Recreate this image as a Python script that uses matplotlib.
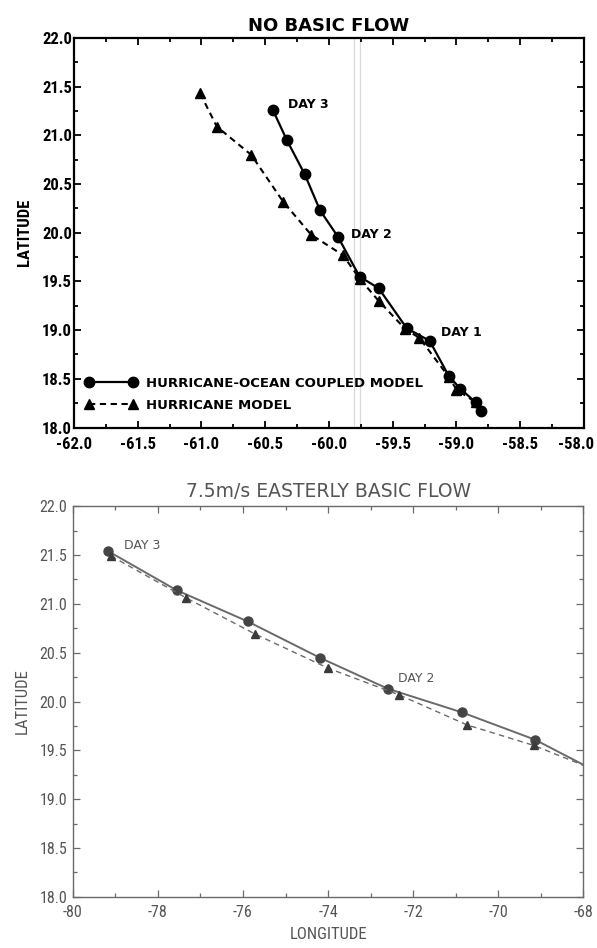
import matplotlib as mpl
mpl.use('Agg')
import matplotlib.pyplot as plt
from matplotlib import font_manager
from matplotlib.ticker import MultipleLocator, FormatStrFormatter
from matplotlib.transforms import ScaledTranslation

# Track positions
# panel 1: no basic flow
nb_coupled_lon = [-60.44, -60.33, -60.19, -60.07, -59.93, -59.76, -59.61, -59.39, -59.21, -59.06, -58.97, -58.85, -58.81]
nb_coupled_lat = [21.26, 20.95, 20.60, 20.23, 19.96, 19.55, 19.43, 19.02, 18.89, 18.53, 18.40, 18.26, 18.17]
nb_hurr_lon = [-61.01, -60.88, -60.61, -60.36, -60.14, -59.89, -59.76, -59.61, -59.40, -59.29, -59.06, -59.00, -58.85]
nb_hurr_lat = [21.43, 21.09, 20.80, 20.32, 19.98, 19.77, 19.53, 19.30, 19.01, 18.92, 18.52, 18.39, 18.26]
nb_days = ["DAY 3", "DAY 2", "DAY 1"]
nb_day_lon = [-60.16, -59.67, -58.96]
nb_day_lat = [21.32, 19.98, 18.98]

# panel 2: 7.5 m/s easterly basic flow (last point lies just past the right edge)
ef_coupled_lon = [-79.17, -77.56, -75.89, -74.20, -72.59, -70.86, -69.14, -67.5]
ef_coupled_lat = [21.54, 21.14, 20.82, 20.45, 20.13, 19.89, 19.61, 19.24]
ef_hurr_lon = [-79.10, -77.33, -75.71, -73.99, -72.34, -70.73, -69.16, -67.5]
ef_hurr_lat = [21.49, 21.06, 20.69, 20.34, 20.07, 19.76, 19.55, 19.26]
ef_days = ["DAY 3", "DAY 2"]
ef_day_lon = [-78.38, -71.92]
ef_day_lat = [21.60, 20.24]

# pick a narrow face for the tick labels if one is around
have = set(f.name for f in font_manager.fontManager.ttflist)
narrow_face = 'DejaVu Sans'
for cand in ['Liberation Sans Narrow', 'Roboto Condensed', 'Open Sans Condensed']:
    if cand in have:
        narrow_face = cand
        break
narrow = [narrow_face, 'DejaVu Sans']
nsize = 12 if narrow_face != 'DejaVu Sans' else 9.5

plt.rcParams['axes.unicode_minus'] = False

fig = plt.figure(figsize=(5.97, 9.48), dpi=100)

# ---------------- top panel ----------------
ax1 = fig.add_axes([0.124, 0.549, 0.854, 0.411])
ax1.axvline(-59.80, color='#d8d8d8', lw=0.8, zorder=0)
ax1.axvline(-59.76, color='#d8d8d8', lw=0.8, zorder=0)
l1, = ax1.plot(nb_coupled_lon, nb_coupled_lat, '-o', color='black', lw=1.6, ms=7.5,
               label='HURRICANE-OCEAN COUPLED MODEL')
l2, = ax1.plot(nb_hurr_lon, nb_hurr_lat, '--^', color='black', lw=1.5, ms=7, dashes=(3, 2.2),
               label='HURRICANE MODEL')
for t, x, y in zip(nb_days, nb_day_lon, nb_day_lat):
    ax1.text(x, y, t, ha='center', va='center', fontsize=9, fontweight='bold')
ax1.set_xlim(-62, -58)
ax1.set_ylim(18, 22)
ax1.xaxis.set_major_locator(MultipleLocator(0.5))
ax1.xaxis.set_minor_locator(MultipleLocator(0.25))
ax1.yaxis.set_major_locator(MultipleLocator(0.5))
ax1.yaxis.set_minor_locator(MultipleLocator(0.25))
ax1.xaxis.set_major_formatter(FormatStrFormatter('%.1f'))
ax1.yaxis.set_major_formatter(FormatStrFormatter('%.1f'))
ax1.tick_params(which='both', direction='in', top=True, right=True, width=1.3, color='black')
ax1.tick_params(which='major', length=5)
ax1.tick_params(which='minor', length=3)
ax1.tick_params(axis='x', pad=6.5)
ax1.tick_params(axis='y', pad=1.5)
for lab in ax1.get_xticklabels() + ax1.get_yticklabels():
    lab.set_family(narrow)
    lab.set_fontweight('bold')
    lab.set_fontsize(nsize)
# the -58.0 label sits flush with the right edge of the page, nudge it in
for tick in ax1.xaxis.get_major_ticks():
    if abs(tick.get_loc() + 58) < 1e-6:
        tick.label1.set_transform(tick.label1.get_transform()
                                  + ScaledTranslation(-6 / 72, 0, fig.dpi_scale_trans))
for s in ax1.spines.values():
    s.set_linewidth(1.6)
ax1.set_title('NO BASIC FLOW', fontsize=13, fontweight='bold', pad=5)
ax1.set_ylabel('LATITUDE', family=narrow, fontweight='bold', fontsize=nsize, labelpad=7)
ax1.legend(handles=[l1, l2], loc='lower left', bbox_to_anchor=(0.022, 0.04), frameon=False,
           borderpad=0, borderaxespad=0, numpoints=2, handlelength=3.9, handletextpad=0.7,
           labelspacing=0.7, prop={'weight': 'bold', 'size': 9.5})

# ---------------- bottom panel ----------------
grey_line = '#6a6a6a'
grey_text = '#555555'
ax2 = fig.add_axes([0.122, 0.054, 0.855, 0.412])
ax2.plot(ef_coupled_lon, ef_coupled_lat, '-o', color=grey_line, mfc='#454545', mec='#454545',
         lw=1.4, ms=6.5)
ax2.plot(ef_hurr_lon, ef_hurr_lat, '--^', color=grey_line, mfc='#3a3a3a', mec='#3a3a3a',
         lw=1.0, ms=6, dashes=(4, 3))
for t, x, y in zip(ef_days, ef_day_lon, ef_day_lat):
    ax2.text(x, y, t, ha='center', va='center', fontsize=9, color=grey_text)
ax2.set_xlim(-80, -68)
ax2.set_ylim(18, 22)
ax2.xaxis.set_major_locator(MultipleLocator(2))
ax2.xaxis.set_minor_locator(MultipleLocator(1))
ax2.yaxis.set_major_locator(MultipleLocator(0.5))
ax2.yaxis.set_minor_locator(MultipleLocator(0.25))
ax2.yaxis.set_major_formatter(FormatStrFormatter('%.1f'))
ax2.tick_params(which='both', direction='in', top=True, right=True, width=0.9,
                color=grey_line, labelcolor=grey_text)
ax2.tick_params(which='major', length=5)
ax2.tick_params(which='minor', length=3)
ax2.tick_params(axis='x', pad=6)
ax2.tick_params(axis='y', pad=4)
for lab in ax2.get_xticklabels() + ax2.get_yticklabels():
    lab.set_family(narrow)
    lab.set_fontsize(nsize - 0.5)
for s in ax2.spines.values():
    s.set_linewidth(1.0)
    s.set_color(grey_line)
ax2.set_title('7.5m/s EASTERLY BASIC FLOW', fontsize=13.5, color=grey_text, pad=7)
ax2.set_ylabel('LATITUDE', family=narrow, fontsize=nsize, color=grey_text, labelpad=7)
ax2.set_xlabel('LONGITUDE', family=narrow, fontsize=nsize, color=grey_text, labelpad=5)

fig.savefig('out.png', dpi=100)
